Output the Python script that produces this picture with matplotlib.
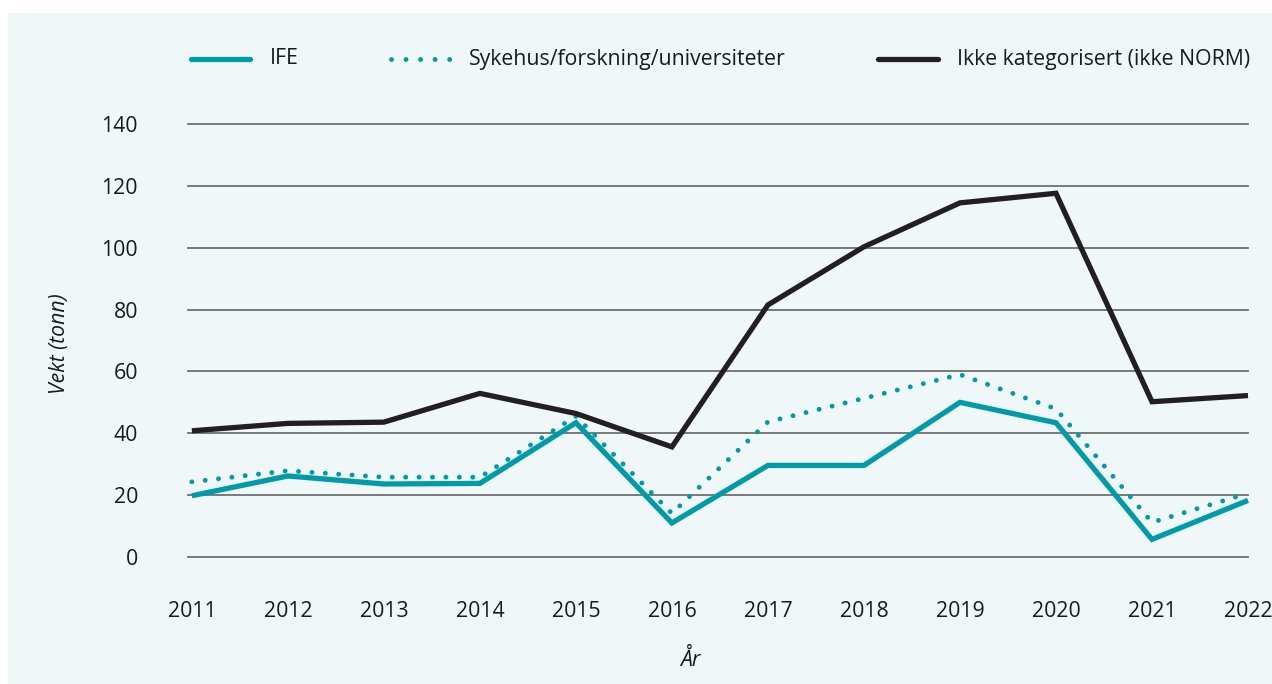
import matplotlib
matplotlib.use("Agg")
import matplotlib.pyplot as plt
from matplotlib.lines import Line2D
from matplotlib.patches import Rectangle

plt.rcParams['font.family'] = ['Open Sans', 'DejaVu Sans']

years = [2011, 2012, 2013, 2014, 2015, 2016, 2017, 2018, 2019, 2020, 2021, 2022]
ife = [19.8, 26.2, 23.6, 23.8, 43.4, 11.0, 29.6, 29.6, 50.0, 43.4, 5.7, 18.3]
sykehus = [24.3, 27.9, 25.8, 25.8, 45.5, 14.1, 43.7, 51.3, 59.0, 47.9, 11.2, 20.6]
ikke = [40.8, 43.2, 43.6, 52.9, 46.4, 35.6, 81.5, 100.3, 114.5, 117.6, 50.2, 52.2]
yticks = [0, 20, 40, 60, 80, 100, 120, 140]

teal = '#009ba7'
dark = '#231f20'
panel = '#eff7f9'
txt = '#1a1a1a'
fs = 15.3

W, H = 1272, 684
fig = plt.figure(figsize=(W / 100, H / 100), dpi=100)
fig.patch.set_facecolor('white')
fig.add_artist(Rectangle((8 / W, 0), 1 - 8 / W, 1 - 13 / H, transform=fig.transFigure,
                         facecolor=panel, edgecolor='none', zorder=-10))

ax = fig.add_axes([188 / W, 1 - 557 / H, (1248 - 188) / W, (557 - 124) / H])
ax.set_facecolor('none')
ax.set_xlim(2011 - 0.04, 2022)
ax.set_ylim(0, 140)
for s in ax.spines.values():
    s.set_visible(False)
for v in yticks:
    ax.axhline(v, color='#6f6f6f', lw=1.3, zorder=1, clip_on=False)

ax.plot(years, ife, color=teal, lw=3.8, solid_joinstyle='miter', solid_capstyle='butt',
        zorder=3, clip_on=False)
ax.plot(years, sykehus, color=teal, lw=3.5, linestyle=(0, (0.01, 2.75)),
        dash_capstyle='round', zorder=3, clip_on=False)
ax.plot(years, ikke, color=dark, lw=3.8, solid_joinstyle='miter', solid_capstyle='butt',
        zorder=4, clip_on=False)

ax.set_yticks(yticks)
ax.set_xticks(years)
ax.tick_params(axis='y', length=0, pad=36, labelsize=fs, labelcolor=txt)
ax.tick_params(axis='x', length=0, pad=32, labelsize=fs, labelcolor=txt)

fig.text(60 / W, 1 - 344 / H, 'Vekt (tonn)', rotation=90, ha='center', va='center',
         fontsize=fs, style='italic', color=txt)
fig.text(690 / W, 1 - 660 / H, 'År', ha='center', va='center',
         fontsize=fs, style='italic', color=txt)

# legend
ly = 1 - 59 / H
fig.add_artist(Line2D([191 / W, 250 / W], [ly, ly], transform=fig.transFigure,
                      color=teal, lw=3.8, solid_capstyle='round'))
fig.text(270 / W, ly, 'IFE', va='center', ha='left', fontsize=fs, color=txt)
fig.add_artist(Line2D([391 / W, 451 / W], [ly, ly], transform=fig.transFigure,
                      color=teal, lw=3.5, linestyle=(0, (0.01, 2.98)), dash_capstyle='round'))
fig.text(469 / W, ly, 'Sykehus/forskning/universiteter', va='center', ha='left',
         fontsize=fs, color=txt)
fig.add_artist(Line2D([878 / W, 938 / W], [ly, ly], transform=fig.transFigure,
                      color=dark, lw=3.8, solid_capstyle='round'))
fig.text(957 / W, ly, 'Ikke kategorisert (ikke NORM)', va='center', ha='left',
         fontsize=fs, color=txt)

fig.savefig('out.png', dpi=100, facecolor=fig.get_facecolor())
